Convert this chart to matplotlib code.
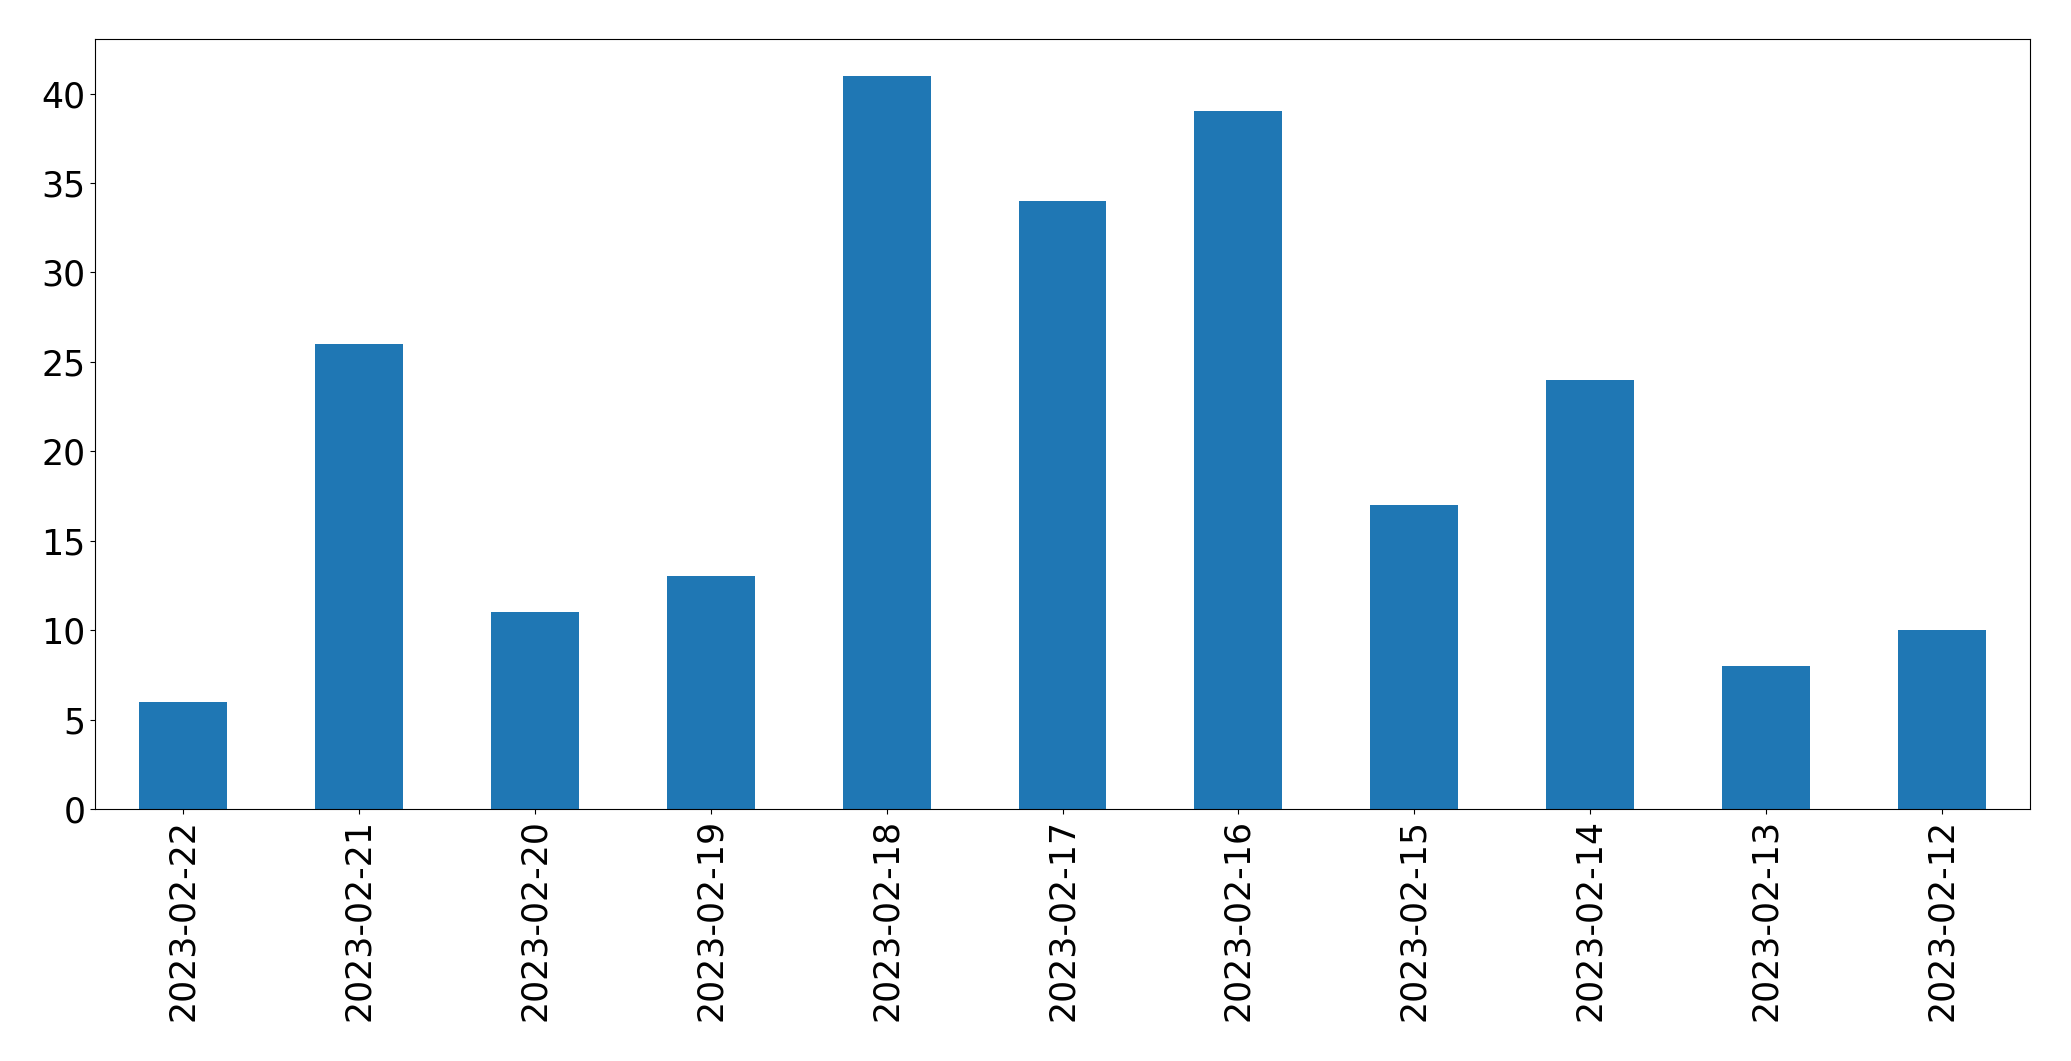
import matplotlib
matplotlib.use("Agg")
import matplotlib.pyplot as plt
import numpy as np

# dates in the order they appear on the x axis
dates = ["2023-02-22", "2023-02-21", "2023-02-20", "2023-02-19", "2023-02-18",
         "2023-02-17", "2023-02-16", "2023-02-15", "2023-02-14", "2023-02-13",
         "2023-02-12"]
counts = [6, 26, 11, 13, 41, 34, 39, 17, 24, 8, 10]

W, H = 2071, 1061
fig = plt.figure(figsize=(W / 100, H / 100), dpi=100)
# axes box in pixels: left 95, right 2030, top 39, bottom 809
ax = fig.add_axes([95 / W, 1 - 809 / H, (2030 - 95) / W, (809 - 39) / H])

x = np.arange(len(dates))
ax.bar(x, counts, width=0.5, color="#1f77b4")
ax.set_xticks(x)
ax.set_xticklabels(dates, rotation=90)
ax.set_xlim(-0.5, len(dates) - 0.5)
ax.set_ylim(0, 43.05)
ax.tick_params(labelsize=25)

fig.savefig("out.png", dpi=100)
